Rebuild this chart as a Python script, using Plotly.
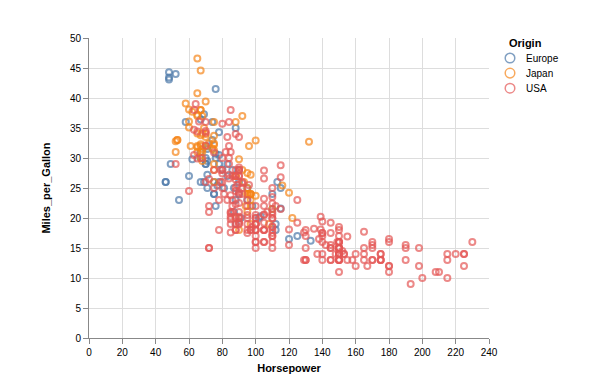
import plotly.graph_objects as go

horsepower = [130,165,150,150,140,198,220,215,225,190,115,165,153,175,175,170,160,140,150,225,
95,95,97,85,88,46,87,90,95,113,90,215,200,210,193,88,90,95,None,48,
100,105,100,88,100,165,175,153,150,180,170,175,110,72,100,88,86,90,70,76,
65,69,60,70,95,80,54,90,86,165,175,150,153,150,208,155,160,190,97,150,
130,140,150,112,76,87,69,86,92,97,80,88,175,150,145,137,150,198,150,158,
150,215,225,175,105,100,100,88,95,46,150,167,170,180,100,88,72,94,90,85,
107,90,145,230,49,75,91,112,150,110,122,180,95,None,100,100,67,80,65,75,
100,110,105,140,150,150,140,150,83,67,78,52,61,75,75,75,97,93,67,95,
105,72,72,170,145,150,148,110,105,110,95,110,110,129,75,83,100,78,96,71,
97,97,70,90,95,88,98,115,53,86,81,92,79,83,140,150,120,152,100,105,
81,90,52,60,70,53,100,78,110,95,71,70,75,72,102,150,88,108,120,180,
145,130,150,68,80,58,96,70,145,110,145,130,110,105,100,98,180,170,190,149,
78,88,75,89,63,83,67,78,97,110,110,48,66,52,70,60,110,140,139,105,
95,85,88,100,90,105,85,110,120,145,165,139,140,68,95,97,75,95,105,85,
97,103,125,115,133,71,68,115,85,88,90,110,130,129,138,135,155,142,125,150,
71,65,80,80,77,125,71,90,70,70,65,69,90,115,115,90,76,60,70,65,
90,88,90,90,78,90,75,92,75,65,105,65,48,48,67,67,67,None,67,62,
132,100,88,None,72,84,84,92,110,84,58,64,60,67,65,62,68,63,65,65,
74,None,75,75,100,74,80,110,76,116,120,110,105,88,85,88,88,88,85,84,
90,92,None,74,68,68,63,70,88,75,70,67,67,67,110,85,92,112,96,84,
90,86,52,84,79,82]

miles_per_gallon = [18,15,18,16,17,15,14,14,14,15,None,None,None,None,None,15,14,None,15,14,
24,22,18,21,27,26,25,24,25,26,21,10,10,11,9,27,28,25,25,None,
19,16,17,19,18,14,14,14,14,12,13,13,18,22,19,18,23,28,30,30,
31,35,27,26,24,25,23,20,21,13,14,15,14,17,11,13,12,13,19,15,
13,13,14,18,22,21,26,22,28,23,28,27,13,14,13,14,15,12,13,13,
14,13,12,13,18,16,18,18,23,26,11,12,13,12,18,20,21,22,18,19,
21,26,15,16,29,24,20,19,15,24,20,11,20,21,19,15,31,26,32,25,
16,16,18,16,13,14,14,14,29,26,26,31,32,28,24,26,24,26,31,19,
18,15,15,16,15,16,14,17,16,15,18,21,20,13,29,23,20,23,24,25,
24,18,29,19,23,23,22,25,33,28,25,25,26,27,17.5,16,15.5,14.5,22,22,
24,22.5,29,24.5,29,33,20,18,18.5,17.5,29.5,32,28,26.5,20,13,19,19,16.5,16.5,
13,13,13,31.5,30,36,25.5,33.5,17.5,17,15.5,15,17.5,20.5,19,18.5,16,15.5,15.5,16,
29,24.5,26,25.5,30.5,33.5,30,30.5,22,21.5,21.5,43.1,36.1,32.8,39.4,36.1,19.9,19.4,20.2,19.2,
20.5,20.2,25.1,20.5,19.4,20.6,20.8,18.6,18.1,19.2,17.7,18.1,17.5,30,27.5,27.2,30.9,21.1,23.2,23.8,
23.9,20.3,17,21.6,16.2,31.5,29.5,21.5,19.8,22.3,20.2,20.6,17,17.6,16.5,18.2,16.9,15.5,19.2,18.5,
31.9,34.1,35.7,27.4,25.4,23,27.2,23.9,34.2,34.5,31.8,37.3,28.4,28.8,26.8,33.5,41.5,38.1,32.1,37.2,
28,26.4,24.3,19.1,34.3,29.8,31.3,37,32.2,46.6,27.9,40.8,44.3,43.4,36.4,30,44.6,40.9,33.8,29.8,
32.7,23.7,35,23.6,32.4,27.2,26.6,25.8,23.5,30,39.1,39,35.1,32.3,37,37.7,34.1,34.7,34.4,29.9,
33,34.5,33.7,32.4,32.9,31.6,28.1,None,30.7,25.4,24.2,22.4,26.6,20.2,17.6,28,27,34,31,29,
27,24,23,36,37,31,38,36,36,36,34,38,32,38,25,38,26,22,32,36,
27,27,44,32,28,31]

E, J, U = "Europe", "Japan", "USA"
origin = [U,U,U,U,U,U,U,U,U,U,E,U,U,U,U,U,U,U,U,U,
J,U,U,U,J,E,E,E,E,E,U,U,U,U,U,J,U,J,U,E,
U,U,U,U,U,U,U,U,U,U,U,U,U,U,U,U,U,E,E,E,
J,J,E,U,J,U,E,U,U,U,U,U,U,U,U,U,U,U,J,U,
U,U,U,E,E,E,E,U,J,J,U,J,U,U,U,U,U,U,U,U,
U,U,U,U,U,U,U,U,U,E,U,U,U,U,U,J,U,J,J,U,
U,E,U,U,E,E,E,E,U,E,J,U,U,U,U,U,J,U,J,U,
U,U,U,U,U,U,U,U,E,E,E,J,J,U,E,E,J,J,E,U,
U,U,U,U,U,U,U,U,U,U,U,U,U,U,J,U,U,U,J,E,
J,U,E,U,E,E,E,E,J,E,E,U,U,E,U,U,U,U,U,U,
U,U,U,U,E,J,U,U,U,U,E,J,J,U,E,U,E,J,E,U,
U,U,U,J,U,E,U,J,U,U,U,U,U,U,U,U,U,U,U,U,
E,U,J,U,U,U,J,E,J,E,J,E,U,J,J,J,U,U,U,U,
U,U,U,U,U,U,U,U,U,U,U,U,U,U,J,J,U,J,U,U,
J,E,E,E,E,E,J,U,U,U,U,U,U,U,U,U,U,U,U,U,
E,J,U,U,E,U,E,U,U,U,J,E,U,U,U,U,E,J,U,J,
U,U,U,U,E,J,J,J,J,J,U,J,E,E,E,E,J,E,J,E,
J,J,E,U,J,U,U,U,U,U,J,U,J,J,J,J,J,U,U,U,
E,E,J,J,J,J,E,E,E,J,J,U,U,U,U,U,U,U,U,U,
U,U,U,E,J,J,U,U,J,J,J,J,J,J,U,U,U,U,J,U,
U,U,E,U,U,U]

origins = ["Europe", "Japan", "USA"]
colors = {"Europe": "#4c78a8", "Japan": "#f58518", "USA": "#e45756"}
faded = {"Europe": "rgba(76,120,168,0.7)", "Japan": "rgba(245,133,24,0.7)",
         "USA": "rgba(228,87,86,0.7)"}

fig = go.Figure()
for o in origins:
    xs, ys = [], []
    for h, m, g in zip(horsepower, miles_per_gallon, origin):
        if g == o and h is not None and m is not None:
            xs.append(h)
            ys.append(m)
    fig.add_trace(go.Scatter(
        x=xs, y=ys, mode="markers", name=o, showlegend=False,
        marker=dict(symbol="circle-open", size=6, color=colors[o],
                    opacity=0.7, line=dict(width=2, color=colors[o])),
        hoverinfo="x+y+name"))

font_family = "Liberation Sans, Arial, Helvetica, sans-serif"

# Legend drawn by hand (Vega-style compact spacing)
plot_w, plot_h = 400.0, 300.0
leg_title_x = 1 + 18.3 / plot_w
leg_title_y = 1 - 5.0 / plot_h
sym_x = 1 + 21.0 / plot_w
lab_x = 1 + 35.3 / plot_w
first_y = 1 - 20.0 / plot_h
step = 15.1 / plot_h
annotations = [dict(text="<b>Origin</b>", x=leg_title_x, y=leg_title_y, xref="paper", yref="paper",
                    xanchor="left", yanchor="middle", showarrow=False,
                    font=dict(size=11, color="#000000", family=font_family))]
shapes = []
for i, o in enumerate(origins):
    yy = first_y - i * step
    shapes.append(dict(type="circle", xref="paper", yref="paper",
                       xsizemode="pixel", ysizemode="pixel",
                       xanchor=sym_x, yanchor=yy, x0=-4.8, x1=4.8, y0=-4.8, y1=4.8,
                       line=dict(color=faded[o], width=1.5), fillcolor="rgba(0,0,0,0)"))
    annotations.append(dict(text=o, x=lab_x, y=yy, xref="paper", yref="paper",
                            xanchor="left", yanchor="middle", showarrow=False,
                            font=dict(size=10, color="#000000", family=font_family)))

axis_common = dict(
    showgrid=True, gridcolor="#dddddd", gridwidth=1,
    showline=True, linecolor="#888888", linewidth=1,
    ticks="outside", ticklen=5, tickcolor="#888888", tickwidth=1,
    zeroline=False, tickfont=dict(size=10, color="#000000", family=font_family),
)
fig.update_layout(
    width=590, height=381,
    margin=dict(l=81, r=109, t=30.3, b=50.7, autoexpand=False),
    plot_bgcolor="white", paper_bgcolor="white",
    font=dict(family=font_family, size=10, color="#000000"),
    xaxis=dict(range=[0, 240], dtick=20, tick0=0,
               title=dict(text="<b>Horsepower</b>", font=dict(size=11), standoff=7),
               **axis_common),
    yaxis=dict(range=[0, 50], dtick=5, tick0=0,
               title=dict(text="<b>Miles_per_Gallon</b>", font=dict(size=11), standoff=17),
               **axis_common),
    showlegend=False,
    annotations=annotations,
    shapes=shapes,
)
fig.write_html("out.html")
